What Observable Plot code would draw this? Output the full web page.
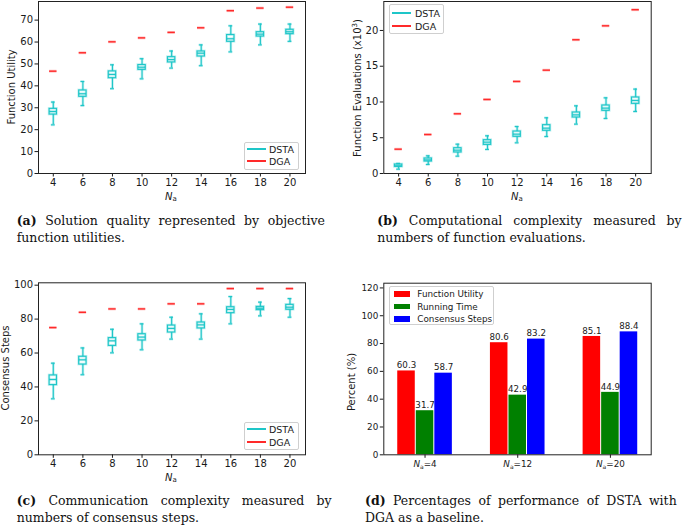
<!DOCTYPE html>
<html><head><meta charset="utf-8">
<script src="https://cdn.jsdelivr.net/npm/d3@7"></script>
<script src="https://cdn.jsdelivr.net/npm/@observablehq/plot@0.6"></script>
<style>
body{margin:0;background:#fff;}
#fig{position:relative;width:685px;height:531px;overflow:hidden;font-family:"DejaVu Sans",sans-serif;color:#1a1a1a;}
.panel{position:absolute;}
.ylab{position:absolute;font-size:10px;white-space:nowrap;transform:translate(-50%,-50%) rotate(-90deg);}
.xlab{position:absolute;font-size:10px;white-space:nowrap;transform:translate(-50%,-50%);}
.legend{position:absolute;background:#fff;border:1px solid #cfcfcf;border-radius:2px;box-sizing:border-box;}
.lt{position:absolute;white-space:nowrap;transform:translateY(-50%);}
.cap{position:absolute;font-family:"DejaVu Serif",serif;font-size:12.5px;line-height:16px;white-space:nowrap;color:#111;}
.j{text-align:justify;text-align-last:justify;}
</style></head>
<body><div id="fig"></div>
<script>
// ---------- data ----------
const Na = [4, 6, 8, 10, 12, 14, 16, 18, 20];
// (a) function utility, DSTA box stats and DGA
const utilLo  = [22.2, 31.0, 38.7, 43.2, 48.1, 49.2, 55.5, 58.7, 60.3];
const utilQ1  = [26.9, 35.0, 43.5, 47.3, 50.7, 53.4, 60.1, 62.5, 63.6];
const utilMed = [28.3, 36.4, 45.2, 48.5, 52.0, 54.9, 61.5, 63.6, 64.7];
const utilQ3  = [29.5, 37.9, 46.6, 49.5, 53.1, 55.7, 63.2, 64.5, 65.6];
const utilHi  = [32.6, 42.0, 49.6, 52.4, 55.9, 58.7, 67.4, 68.2, 68.2];
const utilDGA = [46.7, 55.1, 60.1, 61.9, 64.4, 66.5, 74.3, 75.5, 75.9];
// (b) function evaluations (x10^3)
const evalLo  = [0.60, 1.26, 2.42, 3.36, 4.29, 5.17, 6.90, 7.69, 8.67];
const evalQ1  = [0.93, 1.68, 2.94, 4.00, 5.13, 5.97, 7.83, 8.76, 9.74];
const evalMed = [1.07, 1.90, 3.26, 4.38, 5.50, 6.34, 8.20, 9.14, 10.21];
const evalQ3  = [1.26, 2.10, 3.54, 4.66, 5.87, 6.76, 8.53, 9.51, 10.63];
const evalHi  = [1.40, 2.47, 4.10, 5.27, 6.57, 7.79, 9.46, 10.58, 11.80];
const evalDGA = [3.4, 5.45, 8.35, 10.35, 12.87, 14.45, 18.7, 20.65, 22.9];
// (c) consensus steps
const stepLo  = [33.0, 47.2, 60.1, 61.9, 68.2, 68.2, 77.2, 81.9, 81.1];
const stepQ1  = [41.1, 53.2, 64.2, 67.4, 72.1, 74.5, 83.5, 85.3, 85.5];
const stepMed = [44.4, 56.0, 67.2, 69.4, 74.5, 76.6, 85.7, 86.4, 87.0];
const stepQ3  = [46.8, 57.8, 68.8, 71.1, 76.2, 78.0, 87.0, 87.2, 88.4];
const stepHi  = [54.0, 63.0, 74.0, 77.2, 81.1, 83.1, 93.3, 90.0, 92.1];
const stepDGA = [75, 84, 86, 86, 89, 89, 98, 98, 98];
// (d) percentages
const groups  = ["4", "12", "20"];
const metrics = ["Function Utility", "Running Time", "Consensus Steps"];
const pctUtility = [60.3, 80.6, 85.1];
const pctTime    = [31.7, 42.9, 44.9];
const pctSteps   = [58.7, 83.2, 88.4];
const metricColors = ["#ff0000", "#008000", "#0000ff"];
// tick values
const ticksA = [0, 10, 20, 30, 40, 50, 60, 70];
const ticksB = [0, 5, 10, 15, 20];
const ticksC = [0, 20, 40, 60, 80, 100];
const ticksD = [0, 20, 40, 60, 80, 100, 120];

const CYAN = "#1ec6c8", RED = "#ff2a2a";
const fig = document.getElementById("fig");

function place(el, left, top) {
  el.classList.add("panel");
  el.style.left = left + "px"; el.style.top = top + "px";
  fig.appendChild(el);
}

function boxPanel(cfg) {
  const rows = Na.map((n, i) => ({n, lo: cfg.lo[i], q1: cfg.q1[i], med: cfg.med[i], q3: cfg.q3[i], hi: cfg.hi[i], dga: cfg.dga[i]}));
  const halo = {stroke: CYAN, strokeOpacity: 0.28, strokeWidth: 2.6};
  const core = {stroke: CYAN, strokeWidth: 1.1};
  const boxX1 = d => d.n - 0.25, boxX2 = d => d.n + 0.25;
  const capX1 = d => d.n - 0.13, capX2 = d => d.n + 0.13;
  const parts = (o) => [
    Plot.ruleX(rows, {x: "n", y1: "lo", y2: "q1", ...o}),
    Plot.ruleX(rows, {x: "n", y1: "q3", y2: "hi", ...o}),
    Plot.ruleY(rows, {y: "lo", x1: capX1, x2: capX2, ...o}),
    Plot.ruleY(rows, {y: "hi", x1: capX1, x2: capX2, ...o}),
    Plot.rect(rows, {x1: boxX1, x2: boxX2, y1: "q1", y2: "q3", fill: "none", ...o}),
    Plot.ruleY(rows, {y: "med", x1: boxX1, x2: boxX2, ...o})
  ];
  return Plot.plot({
    width: cfg.width, height: cfg.height,
    marginLeft: cfg.ml, marginRight: cfg.mr, marginTop: cfg.mt, marginBottom: cfg.mb,
    style: {fontFamily: "DejaVu Sans", fontSize: "10px", color: "#1a1a1a", background: "transparent"},
    x: {domain: [3, 21.05]},
    y: {domain: cfg.yDomain},
    marks: [
      ...parts(halo),
      ...parts(core),
      Plot.ruleY(rows, {y: "dga", x1: boxX1, x2: boxX2, stroke: RED, strokeOpacity: 0.3, strokeWidth: 2.8}),
      Plot.ruleY(rows, {y: "dga", x1: boxX1, x2: boxX2, stroke: RED, strokeWidth: 1.4}),
      Plot.axisY({ticks: cfg.ticks, tickSize: 3.5, tickPadding: 2, label: null, fontSize: 10}),
      Plot.axisX({ticks: Na, tickSize: 3.5, tickPadding: 2, label: null, fontSize: 10}),
      Plot.frame({stroke: "#222"})
    ]
  });
}

function label(cls, html, x, y) {
  const d = document.createElement("div");
  d.className = cls; d.innerHTML = html;
  d.style.left = x + "px"; d.style.top = y + "px";
  fig.appendChild(d);
}
const NA = '<i>N</i><sub style="font-size:0.7em;vertical-align:-0.25em">a</sub>';

function lineLegend(box, items) {
  const d = document.createElement("div");
  d.className = "legend";
  Object.assign(d.style, {left: box[0] + "px", top: box[1] + "px", width: (box[2] - box[0]) + "px", height: (box[3] - box[1]) + "px"});
  fig.appendChild(d);
  items.forEach(it => {
    const ln = document.createElement("div");
    Object.assign(ln.style, {position: "absolute", left: (it.x1 - box[0] - 1) + "px", top: (it.y - box[1] - 1 - 1) + "px",
      width: (it.x2 - it.x1) + "px", height: "2px", background: it.color});
    d.appendChild(ln);
    const t = document.createElement("div");
    t.className = "lt"; t.textContent = it.text;
    Object.assign(t.style, {left: (it.tx - box[0] - 1) + "px", top: (it.y - box[1] - 1) + "px", fontSize: it.fs + "px"});
    d.appendChild(t);
  });
}

// ---------- panel (a) ----------
place(boxPanel({lo: utilLo, q1: utilQ1, med: utilMed, q3: utilQ3, hi: utilHi, dga: utilDGA,
  width: 340, height: 205, ml: 38, mr: 35, mt: 1, mb: 32, yDomain: [0, 78.5], ticks: ticksA}), 0, 0);
label("ylab", "Function Utility", 11, 87);
label("xlab", NA, 171, 197);
lineLegend([243.7, 141.7, 299, 170.3], [
  {x1: 246.7, x2: 266, y: 148.7, tx: 269, text: "DSTA", color: CYAN, fs: 9.5},
  {x1: 246.7, x2: 266, y: 161.3, tx: 269, text: "DGA", color: RED, fs: 9.5}]);

// ---------- panel (b) ----------
place(boxPanel({lo: evalLo, q1: evalQ1, med: evalMed, q3: evalQ3, hi: evalHi, dga: evalDGA,
  width: 345, height: 205, ml: 43.3, mr: 34.3, mt: 1, mb: 32, yDomain: [0, 24.05], ticks: ticksB}), 340, 0);
label("ylab", 'Function Evaluations (x10<sup style="font-size:0.7em;vertical-align:0.45em">3</sup>)', 357, 88);
label("xlab", NA, 517, 197);
lineLegend([389.3, 4.3, 444, 33.7], [
  {x1: 391.7, x2: 411, y: 13.3, tx: 415, text: "DSTA", color: CYAN, fs: 9.5},
  {x1: 391.7, x2: 411, y: 25.7, tx: 415, text: "DGA", color: RED, fs: 9.5}]);

// ---------- panel (c) ----------
place(boxPanel({lo: stepLo, q1: stepQ1, med: stepMed, q3: stepQ3, hi: stepHi, dga: stepDGA,
  width: 340, height: 215, ml: 38, mr: 35, mt: 12.3, mb: 30.7, yDomain: [0, 101.4], ticks: ticksC}), 0, 270);
label("ylab", "Consensus Steps", 5, 368);
label("xlab", NA, 171, 478);
lineLegend([243.7, 422, 299, 450.3], [
  {x1: 246.7, x2: 266, y: 429.3, tx: 269, text: "DSTA", color: CYAN, fs: 9.5},
  {x1: 246.7, x2: 266, y: 442, tx: 269, text: "DGA", color: RED, fs: 9.5}]);

// ---------- panel (d) ----------
const bars = [];
const series = [pctUtility, pctTime, pctSteps];
groups.forEach((g, gi) => metrics.forEach((m, mi) => {
  const c = gi + (mi - 1) * 0.2;
  bars.push({metric: m, x1: c - 0.1, x2: c + 0.1, xc: c, v: series[mi][gi]});
}));
const pd = Plot.plot({
  width: 345, height: 215, marginLeft: 43.3, marginRight: 34.3, marginTop: 12.7, marginBottom: 30.7,
  style: {fontFamily: "DejaVu Sans", fontSize: "8.8px", color: "#1a1a1a", background: "transparent"},
  x: {domain: [-0.445, 2.44]},
  y: {domain: [0, 123.4]},
  color: {domain: metrics, range: metricColors},
  marks: [
    Plot.rectY(bars, {x1: "x1", x2: "x2", y: "v", fill: "metric", insetLeft: 0.5, insetRight: 0.5}),
    Plot.text(bars, {x: "xc", y: "v", text: d => d.v.toFixed(1), dy: -5.5, fontSize: 8.7}),
    Plot.axisY({ticks: ticksD, tickSize: 3.5, tickPadding: 2, label: null, fontSize: 8.8}),
    Plot.axisX({ticks: [0, 1, 2], tickFormat: i => "Na=" + groups[i], tickSize: 3.5, tickPadding: 2, label: null, fontSize: 8.8}),
    Plot.frame({stroke: "#222"})
  ]
});
d3.select(pd).selectAll("text").each(function() {
  const s = this.textContent;
  if (s.startsWith("Na=")) {
    const t = d3.select(this); t.text(null);
    t.append("tspan").attr("font-style", "italic").text("N");
    t.append("tspan").attr("font-size", "6px").attr("dy", "2").text("a");
    t.append("tspan").attr("dy", "-2").text(s.slice(2));
  }
});
place(pd, 340, 270);
label("ylab", "Percent (%)", 350.5, 382);
// bar legend
(function() {
  const box = [389.3, 285.7, 494, 325.3];
  const d = document.createElement("div");
  d.className = "legend";
  Object.assign(d.style, {left: box[0] + "px", top: box[1] + "px", width: (box[2] - box[0]) + "px", height: (box[3] - box[1]) + "px"});
  fig.appendChild(d);
  const ys = [294, 306.6, 319.2];
  metrics.forEach((m, i) => {
    const p = document.createElement("div");
    Object.assign(p.style, {position: "absolute", left: (393.7 - box[0] - 1) + "px", top: (ys[i] - 2.8 - box[1] - 1) + "px",
      width: "16px", height: "5.6px", background: metricColors[i]});
    d.appendChild(p);
    const t = document.createElement("div");
    t.className = "lt"; t.textContent = m;
    Object.assign(t.style, {left: (417.3 - box[0] - 1) + "px", top: (ys[i] - box[1] - 1) + "px", fontSize: "8.8px"});
    d.appendChild(t);
  });
})();

// ---------- captions ----------
function caption(left, right, y1, y2, tag, l1, l2) {
  const a = document.createElement("div");
  a.className = "cap j"; a.innerHTML = "<b>(" + tag + ")</b> " + l1;
  Object.assign(a.style, {left: left + "px", width: (right - left) + "px", top: (y1 - 8) + "px"});
  fig.appendChild(a);
  const b = document.createElement("div");
  b.className = "cap"; b.textContent = l2;
  Object.assign(b.style, {left: left + "px", width: (right - left) + "px", top: (y2 - 8) + "px"});
  fig.appendChild(b);
}
caption(16.7, 325, 220.5, 237.5, "a", "Solution quality represented by objective", "function utilities.");
caption(377.3, 681.7, 220.5, 237.5, "b", "Computational complexity measured by", "numbers of function evaluations.");
caption(16.7, 331.7, 500.5, 518, "c", "Communication complexity measured by", "numbers of consensus steps.");
caption(365, 676.7, 500.5, 518, "d", "Percentages of performance of DSTA with", "DGA as a baseline.");
</script></body></html>
